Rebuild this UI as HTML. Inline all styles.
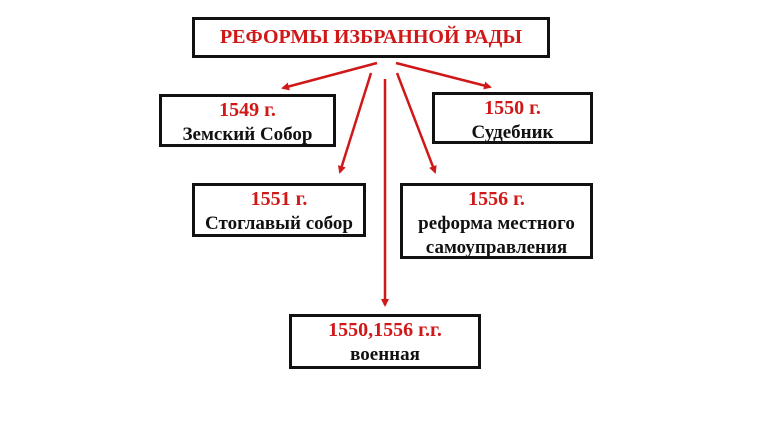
<!DOCTYPE html>
<html><head><meta charset="utf-8"><style>
body{margin:0;width:770px;height:433px;background:#fff;position:relative;overflow:hidden;font-family:"Liberation Serif",serif;font-weight:bold}
.b{position:absolute;border:3px solid #111;box-sizing:border-box;text-align:center;font-size:19px;line-height:24px;color:#111}
.r{color:#d01818;font-size:20px}
svg{position:absolute;left:0;top:0}
</style></head><body>
<div class="b" style="left:192px;top:17px;width:358px;height:41px;line-height:35px"><span class="r" style="font-size:20px">РЕФОРМЫ ИЗБРАННОЙ РАДЫ</span></div>
<div class="b" style="left:159px;top:94px;width:177px;height:53px;padding-top:1px"><span class="r">1549 г.</span><br>Земский Собор</div>
<div class="b" style="left:432px;top:92px;width:161px;height:52px;padding-top:1px"><span class="r">1550 г.</span><br>Судебник</div>
<div class="b" style="left:192px;top:183px;width:174px;height:54px;padding-top:1px"><span class="r">1551 г.</span><br>Стоглавый собор</div>
<div class="b" style="left:400px;top:183px;width:193px;height:76px;padding-top:1px"><span class="r">1556 г.</span><br>реформа местного<br>самоуправления</div>
<div class="b" style="left:289px;top:314px;width:192px;height:55px;padding-top:1px"><span class="r">1550,1556 г.г.</span><br>военная</div>
<svg width="770" height="433"><defs><marker id="a" markerWidth="8" markerHeight="8" refX="6" refY="4" orient="auto" markerUnits="userSpaceOnUse"><path d="M0,0 L8,4 L0,8 z" fill="#d01818"/></marker></defs>
<g stroke="#d01818" stroke-width="2.5" marker-end="url(#a)">
<line x1="377" y1="63" x2="283" y2="88"/>
<line x1="396" y1="63" x2="490" y2="87"/>
<line x1="371" y1="73" x2="340" y2="172"/>
<line x1="385" y1="79" x2="385" y2="305"/>
<line x1="397" y1="73" x2="435" y2="172"/>
</g></svg>
</body></html>
